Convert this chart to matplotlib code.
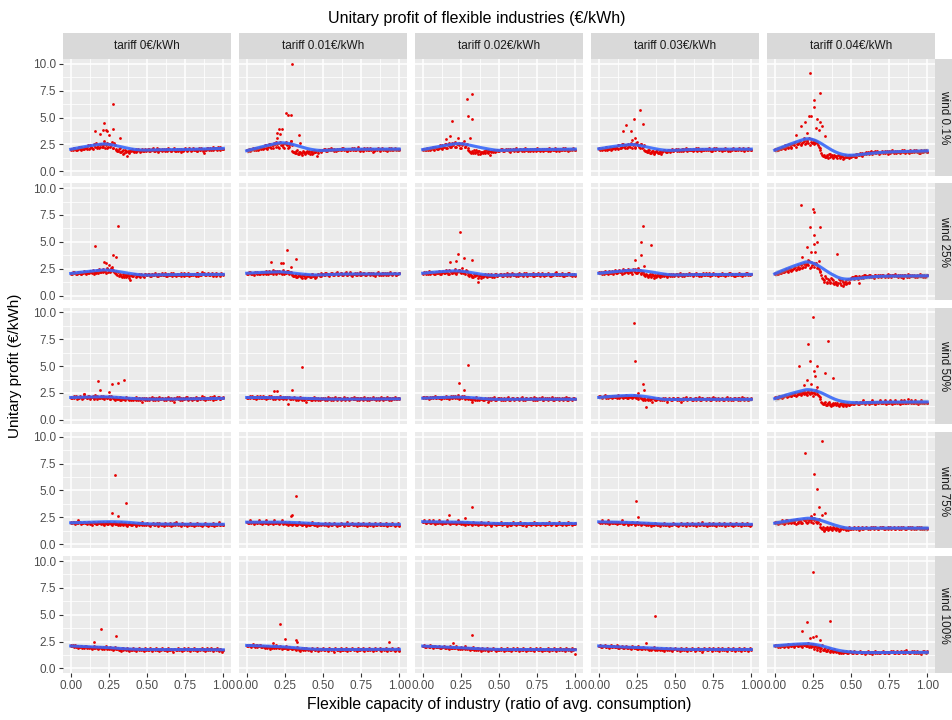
import numpy as np
import matplotlib
matplotlib.use("Agg")
import matplotlib.pyplot as plt

plt.rcParams['font.family'] = ['Liberation Sans', 'DejaVu Sans']

tariffs = ["tariff 0€/kWh", "tariff 0.01€/kWh", "tariff 0.02€/kWh",
           "tariff 0.03€/kWh", "tariff 0.04€/kWh"]
winds = ["wind 0.1%", "wind 25%", "wind 50%", "wind 75%", "wind 100%"]

# profit at capacity 0.00, 0.01, ..., 1.00 for every wind / tariff pair
w01_t0 = [2.0,2.1,2.2,2.1,2.0,2.2,2.1,2.3,2.1,2.2, 2.2,2.3,2.1,2.4,2.2,2.5,2.3,2.2,2.4,2.3,
          2.5,2.3,2.6,2.4,2.2,2.5,2.3,2.7,2.2,2.4, 2.0,1.9,2.2,1.8,2.0,1.7,1.9,1.4,1.8,2.0,
          2.1,1.9,2.0,1.8,2.1,2.0,1.9,2.1,1.9,2.0, 2.0,2.1,1.9,2.0,2.2,1.9,2.0,1.8,2.1,2.0,
          1.9,2.1,2.0,1.9,2.2,2.0,1.9,2.1,2.0,1.9, 2.0,2.1,1.8,2.0,2.1,2.2,1.9,2.0,2.1,2.0,
          2.2,2.0,2.1,1.9,2.2,2.0,2.1,1.7,2.0,2.1, 2.2,2.1,2.0,2.3,2.1,2.2,2.0,2.1,2.3,2.1, 2.1]
w01_t1 = [2.0,1.9,2.1,2.0,2.2,2.1,2.0,2.2,2.1,2.3, 2.2,2.1,2.4,2.2,2.3,2.5,2.2,2.4,2.6,2.3,
          2.5,2.2,2.7,2.4,2.3,2.6,2.5,2.2,2.4,2.8, 1.9,1.8,1.7,2.0,1.6,1.8,1.7,1.9,1.6,1.8,
          1.7,1.9,1.8,1.6,2.0,1.8,1.4,1.9,2.0,1.8, 2.0,2.1,1.9,2.0,2.1,2.0,2.1,1.9,2.0,2.1,
          2.0,2.1,2.0,2.2,2.1,2.0,1.9,2.1,2.0,2.2, 2.1,2.0,2.1,2.3,2.0,2.1,1.9,2.2,2.0,2.1,
          2.0,2.2,2.1,1.8,2.0,2.1,2.2,1.9,2.1,2.0, 2.1,2.0,1.9,2.2,2.0,2.1,2.0,2.2,2.1,2.0, 2.1]
w01_t2 = [2.0,2.1,2.0,2.2,2.1,2.0,2.2,2.1,2.3,2.2, 2.1,2.3,2.2,2.4,2.3,2.5,2.2,2.4,2.3,2.6,
          2.4,2.7,2.3,2.5,2.6,2.2,2.4,2.8,2.3,2.5, 2.0,1.8,1.9,1.7,1.8,2.0,1.6,1.9,1.7,1.8,
          1.9,1.7,1.8,2.0,1.5,1.9,1.8,2.0,1.9,2.0, 1.9,2.0,2.1,1.9,2.0,2.0,2.1,1.8,2.0,2.1,
          2.0,2.2,1.9,2.0,2.1,1.9,2.0,2.2,2.0,1.9, 2.1,2.0,1.9,2.1,2.0,2.2,2.0,1.9,2.1,2.0,
          2.0,2.1,1.9,2.2,2.0,2.1,2.0,1.9,2.1,2.0, 2.1,2.0,2.2,2.0,2.1,1.9,2.0,2.1,2.0,2.1, 2.0]
w01_t3 = [2.1,2.0,2.2,2.1,2.0,2.3,2.1,2.2,2.0,2.2, 2.3,2.1,2.2,2.4,2.2,2.3,2.5,2.2,2.4,2.3,
          2.4,2.6,2.2,2.5,2.3,2.7,2.4,2.2,2.5,2.3, 2.0,1.9,1.8,2.0,1.7,1.9,1.6,1.8,2.0,1.7,
          1.8,1.6,1.9,2.0,1.8,1.9,2.0,1.8,2.1,1.9, 2.0,1.9,2.1,2.0,1.9,2.1,2.0,2.2,1.9,2.0,
          2.1,2.0,1.9,2.1,2.0,2.2,2.0,1.9,2.1,2.0, 2.0,2.1,2.2,2.0,1.9,2.1,2.0,2.2,2.1,2.0,
          2.1,1.9,2.0,2.2,2.1,2.0,1.9,2.1,2.2,2.0, 2.0,2.1,2.2,2.0,2.1,1.9,2.1,2.0,2.2,2.1, 2.0]
w01_t4 = [2.0,2.1,2.0,2.2,2.1,2.3,2.2,2.1,2.4,2.3, 2.4,2.2,2.5,2.6,2.3,2.5,2.7,2.4,2.6,2.8,
          2.5,2.9,2.6,2.4,3.0,2.7,2.5,2.8,2.6,2.3, 2.0,1.5,1.4,1.3,1.5,1.2,1.6,1.4,1.3,1.5,
          1.4,1.2,1.5,1.3,1.4,1.1,1.5,1.3,1.4,1.2, 1.3,1.4,1.5,1.3,1.6,1.5,1.7,1.4,1.6,1.7,
          1.6,1.8,1.7,1.9,1.6,1.8,1.7,1.9,1.8,1.7, 1.8,1.7,1.9,1.8,1.6,1.9,1.8,2.0,1.7,1.8,
          1.9,1.8,1.7,1.9,1.8,2.0,1.8,1.9,1.7,1.9, 1.8,2.0,1.9,1.8,1.9,1.7,2.0,1.8,1.9,2.0, 1.8]

w25_t0 = [2.1,2.0,2.2,2.1,2.0,2.1,2.2,2.0,2.1,2.2, 2.0,2.2,2.1,2.3,2.1,2.0,2.2,2.4,2.1,2.3,
          2.2,2.5,2.3,2.1,2.6,2.4,2.2,2.5,2.3,2.1, 2.0,2.2,1.9,1.8,2.0,1.7,1.9,1.8,1.6,1.4,
          1.9,1.8,2.0,1.7,1.9,1.8,2.0,1.9,1.7,2.0, 1.9,2.0,1.8,2.0,1.9,2.1,1.9,1.8,2.0,1.9,
          2.0,1.9,2.1,1.8,2.0,1.9,2.0,2.1,1.9,1.8, 2.0,1.9,2.1,2.0,1.8,2.0,1.9,2.1,2.0,1.9,
          1.9,2.0,1.8,2.1,2.0,1.9,2.2,2.0,1.9,2.0, 2.1,1.9,2.0,1.8,2.0,2.1,1.9,2.0,1.8,2.0, 1.9]
w25_t1 = [2.1,2.0,2.2,2.0,2.1,1.9,2.1,2.2,2.0,2.1, 2.2,2.0,2.1,2.3,2.0,2.2,2.1,2.4,2.2,2.0,
          2.3,2.1,2.2,2.0,2.4,2.2,2.1,2.3,2.0,2.2, 1.9,1.8,2.0,1.7,1.9,1.8,1.6,1.9,2.0,1.7,
          1.8,1.9,1.7,2.0,1.8,1.6,1.9,2.0,1.8,2.1, 2.0,1.9,2.1,2.0,1.8,2.0,2.1,1.9,2.0,2.2,
          1.9,2.0,2.1,1.9,2.0,2.2,1.9,2.0,2.1,1.8, 2.0,2.1,1.9,2.0,2.2,1.9,2.0,2.1,1.9,2.0,
          2.1,1.9,2.0,2.1,1.8,2.0,2.2,2.0,1.9,2.1, 2.0,1.9,2.1,2.0,2.2,1.9,2.0,2.1,1.9,2.0, 2.1]
w25_t2 = [2.1,2.2,2.0,2.1,2.3,2.0,2.2,2.1,2.0,2.2, 2.1,2.3,2.0,2.2,2.1,2.4,2.2,2.0,2.3,2.1,
          2.2,2.5,2.0,2.3,2.4,2.1,2.6,2.2,2.0,2.3, 1.9,2.0,1.8,1.7,1.9,2.0,1.25,1.8,1.6,1.9,
          1.8,2.0,1.7,1.9,1.8,2.0,1.9,1.7,2.0,1.8, 1.9,2.0,1.8,2.0,1.9,2.1,1.9,1.8,2.0,1.9,
          2.0,1.8,1.9,2.1,2.0,1.9,1.8,2.0,2.1,1.9, 1.9,2.0,2.1,1.8,2.0,1.9,2.0,1.8,2.1,1.9,
          2.0,1.9,2.1,2.0,1.8,1.9,2.0,2.2,1.9,2.0, 1.9,2.1,1.8,2.0,1.9,2.0,2.1,1.9,1.8,2.0, 1.9]
w25_t3 = [2.2,2.1,2.0,2.2,2.3,2.1,2.0,2.2,2.1,2.3, 2.2,2.4,2.1,2.3,2.2,2.0,2.5,2.2,2.3,2.1,
          2.4,2.2,2.0,2.3,2.5,2.1,2.2,2.4,2.0,2.2, 1.9,2.0,1.7,1.9,1.8,2.0,1.6,1.9,1.8,2.0,
          1.7,1.9,2.0,1.8,1.9,1.7,2.0,1.9,1.8,2.0, 1.9,2.0,1.8,2.1,1.9,2.0,1.8,2.0,1.9,2.1,
          1.9,2.0,1.8,2.0,2.1,1.9,2.0,1.8,2.0,1.9, 2.1,1.9,2.0,1.8,2.0,2.1,1.9,2.0,1.8,2.0,
          1.9,2.1,2.0,1.8,2.0,1.9,2.1,2.0,1.9,1.8, 2.0,1.9,2.1,2.0,1.8,2.0,1.9,2.1,2.0,1.9, 2.0]
w25_t4 = [2.0,2.1,2.0,2.2,2.1,2.3,2.2,2.4,2.3,2.2, 2.4,2.3,2.5,2.6,2.4,2.7,2.5,2.8,2.6,2.9,
          2.7,3.0,2.8,2.6,3.1,2.9,2.7,3.0,2.8,2.5, 2.2,1.6,1.4,1.8,1.3,1.5,1.2,1.6,1.4,1.1,
          1.3,1.0,1.5,1.2,1.4,0.9,1.3,1.1,1.5,1.2, 1.6,1.7,1.5,1.8,1.6,1.2,1.7,1.8,1.6,1.9,
          1.7,1.8,1.9,1.7,1.8,1.6,1.9,1.8,1.7,1.9, 1.8,1.9,1.7,1.8,2.0,1.8,1.7,1.9,1.8,1.9,
          1.8,1.7,1.9,1.8,1.6,1.9,1.8,2.0,1.7,1.8, 1.9,1.8,1.7,1.9,1.8,2.0,1.8,1.7,1.9,1.8, 1.9]

w50_t0 = [2.1,2.0,2.2,2.1,1.9,2.0,2.2,2.1,2.0,2.4, 2.1,2.0,2.2,1.9,2.1,2.0,2.3,1.9,2.1,2.0,
          2.2,2.0,1.9,2.1,2.0,2.2,1.9,2.1,2.0,1.8, 2.0,1.9,2.1,1.8,2.0,1.9,2.1,2.0,1.8,1.9,
          2.0,1.8,1.9,2.1,1.8,2.0,1.9,1.7,2.0,1.9, 1.8,2.0,1.9,2.1,1.8,1.9,2.0,1.8,2.1,1.9,
          2.0,1.8,1.9,2.0,2.1,1.8,2.0,1.9,1.7,2.0, 1.9,2.1,2.0,1.8,1.9,2.0,2.1,1.8,2.0,1.9,
          2.0,1.9,2.1,1.8,2.0,1.9,2.2,2.0,1.8,2.0, 1.9,2.1,2.0,1.8,2.2,1.9,2.0,2.1,1.9,2.0, 2.1]
w50_t1 = [2.1,2.0,2.2,2.1,2.0,2.1,1.9,2.2,2.0,2.1, 2.0,2.2,2.1,1.9,2.0,2.1,2.2,1.9,2.1,2.0,
          2.1,1.9,2.2,2.0,1.9,2.1,2.0,1.45,2.1,1.9, 2.0,2.1,1.8,2.0,1.9,2.1,1.8,2.0,1.9,1.7,
          2.0,1.9,1.8,2.0,2.1,1.8,1.9,2.0,1.8,1.9, 2.0,1.8,1.9,2.1,1.9,1.8,2.0,1.9,2.1,1.8,
          1.9,2.0,1.8,1.9,2.1,1.9,2.0,1.8,1.9,2.0, 2.1,1.9,1.8,2.0,1.9,2.0,1.8,2.1,1.9,2.0,
          1.8,2.0,1.9,2.1,1.9,1.8,2.0,1.9,2.1,1.8, 2.0,1.9,2.1,1.8,2.0,1.9,2.0,2.1,1.9,2.0, 1.9]
w50_t2 = [2.0,2.1,2.0,2.1,1.9,2.0,2.1,2.0,2.2,2.0, 2.1,2.0,1.9,2.1,2.0,2.2,2.0,1.9,2.1,2.0,
          2.2,2.0,2.1,2.3,1.9,2.1,2.0,2.2,1.9,2.0, 2.1,1.9,1.7,2.0,1.8,2.1,1.9,1.8,2.0,1.9,
          1.8,2.0,1.9,1.7,2.0,1.8,1.9,2.1,1.8,1.9, 2.0,1.8,1.9,2.0,1.8,1.9,2.1,1.8,1.9,2.0,
          1.8,1.9,2.0,1.8,1.9,2.1,1.9,1.8,2.0,1.9, 1.9,2.0,1.8,2.1,1.9,1.8,2.0,1.9,2.1,1.8,
          2.0,1.9,1.8,2.0,1.9,2.1,1.8,1.9,2.0,1.8, 1.9,2.0,1.8,1.9,2.1,1.8,2.0,1.9,1.8,2.0, 1.9]
w50_t3 = [2.1,2.2,2.0,2.1,2.3,2.1,2.0,2.2,2.1,2.0, 2.2,2.1,2.0,2.3,2.1,2.2,2.0,2.1,2.3,2.0,
          2.2,2.1,2.0,2.3,2.1,2.2,1.9,2.1,2.0,1.8, 1.9,1.2,1.8,2.0,1.9,1.7,2.0,1.8,1.9,2.0,
          1.8,1.9,2.0,1.8,1.9,1.7,2.0,1.9,1.8,2.0, 1.9,1.8,2.0,1.9,1.7,2.0,1.9,2.1,1.8,1.9,
          2.0,1.8,1.9,2.0,1.8,1.9,2.1,1.8,2.0,1.9, 1.8,2.0,1.9,1.8,2.0,2.1,1.9,1.8,2.0,1.9,
          1.9,2.0,1.8,1.9,2.1,1.8,2.0,1.9,1.8,2.0, 1.9,1.8,2.0,1.9,2.1,1.8,1.9,2.0,1.8,1.9, 2.0]
w50_t4 = [2.0,2.1,2.0,2.2,2.1,2.0,2.2,2.3,2.1,2.2, 2.3,2.2,2.4,2.3,2.2,2.5,2.4,2.3,2.6,2.4,
          2.5,2.3,2.7,2.4,2.6,2.2,2.5,2.8,2.4,2.2, 1.9,1.6,1.5,1.7,1.4,1.6,1.5,1.3,1.6,1.5,
          1.4,1.6,1.3,1.5,1.4,1.6,1.5,1.3,1.5,1.4, 1.5,1.6,1.5,1.7,1.6,1.5,1.7,1.6,1.8,1.5,
          1.6,1.7,1.5,1.6,1.8,1.6,1.5,1.7,1.6,1.8, 1.7,1.6,1.8,1.5,1.7,1.6,1.7,1.5,1.6,1.8,
          1.6,1.7,1.5,1.8,1.6,1.7,1.6,1.9,1.7,1.6, 1.7,1.6,1.8,1.7,1.5,1.6,1.8,1.7,1.6,1.7, 1.6]

w75_t0 = [2.1,2.0,2.1,1.9,2.0,2.2,2.1,1.9,2.0,2.1, 2.0,1.9,2.1,2.0,1.8,2.1,2.0,1.9,2.1,2.0,
          1.9,2.1,1.8,2.0,1.9,2.1,2.0,1.8,2.0,1.9, 2.0,1.8,1.9,2.1,1.8,2.0,1.9,1.7,2.0,1.9,
          1.8,2.0,1.9,1.7,2.0,1.8,1.9,2.1,1.8,1.9, 2.0,1.8,1.7,1.9,2.0,1.8,1.9,1.7,2.0,1.8,
          1.9,1.7,2.0,1.8,1.9,2.0,1.7,1.8,1.9,2.1, 1.8,1.9,1.7,2.0,1.8,1.9,1.7,1.9,2.0,1.8,
          1.9,1.7,1.8,2.0,1.9,1.8,1.7,1.9,2.0,1.8, 1.7,1.9,1.8,2.0,1.7,1.9,1.8,2.1,1.8,1.9, 1.8]
w75_t1 = [2.1,2.0,2.2,2.0,2.1,1.9,2.1,2.0,2.2,2.0, 1.9,2.1,2.0,2.2,1.9,2.0,2.1,1.9,2.2,2.0,
          2.1,1.9,2.0,2.2,1.9,2.1,2.0,1.8,2.1,1.9, 1.8,2.0,1.9,1.8,2.1,1.9,1.8,2.0,1.9,1.7,
          2.0,1.8,1.9,2.1,1.8,1.9,1.7,2.0,1.9,1.8, 1.9,2.0,1.8,1.7,2.0,1.9,1.8,2.0,1.9,1.7,
          1.9,1.8,2.0,1.9,1.7,1.9,2.1,1.8,1.9,2.0, 1.8,1.9,1.7,2.0,1.8,1.9,2.0,1.8,1.9,1.7,
          2.0,1.8,1.9,1.7,2.0,1.8,1.9,2.0,1.8,1.9, 1.8,2.0,1.7,1.9,1.8,2.0,1.9,1.7,1.8,2.0, 1.7]
w75_t2 = [2.1,2.2,2.0,2.1,2.2,2.0,2.1,2.2,1.9,2.1, 2.0,2.2,2.1,1.9,2.0,2.1,2.2,2.0,1.9,2.1,
          2.0,2.1,1.9,2.2,2.0,1.9,2.1,2.0,1.8,2.1, 1.9,2.0,1.8,2.1,1.9,2.0,1.8,1.9,2.1,1.9,
          2.0,1.8,1.9,2.1,1.9,1.7,2.0,1.9,1.8,2.0, 1.9,2.1,1.8,1.9,2.0,1.7,1.9,2.0,1.8,2.1,
          1.9,1.8,2.0,1.9,2.1,1.8,1.9,2.0,1.7,1.9, 2.0,1.8,1.9,2.1,1.8,2.0,1.9,1.8,2.0,1.9,
          1.8,2.0,1.9,2.1,1.8,1.9,2.0,1.8,1.9,2.1, 1.9,1.8,2.0,1.9,1.8,2.1,1.9,2.0,1.8,1.9, 2.0]
w75_t3 = [2.1,2.0,2.2,2.1,2.0,2.1,2.2,1.9,2.1,2.0, 2.1,2.0,1.9,2.1,2.0,2.2,1.9,2.0,2.1,1.8,
          2.0,1.9,2.1,2.0,1.8,2.1,1.9,2.0,1.8,2.0, 1.9,1.8,2.0,1.9,1.7,1.9,1.8,2.0,1.9,1.8,
          1.7,1.9,1.8,2.0,1.8,1.9,1.7,1.9,1.8,2.0, 1.9,1.8,1.7,1.9,2.0,1.8,1.9,1.7,2.0,1.8,
          1.9,2.0,1.8,1.9,1.7,2.0,1.8,1.9,2.1,1.8, 1.9,1.7,2.0,1.8,1.9,2.0,1.8,1.7,1.9,2.0,
          1.8,1.9,2.0,1.7,1.9,1.8,2.0,1.9,1.7,1.9, 2.0,1.8,1.9,1.7,2.0,1.8,1.9,2.0,1.8,1.7, 1.9]
w75_t4 = [2.0,2.1,1.9,2.0,2.1,2.0,1.9,2.1,2.2,2.0, 2.1,2.0,2.2,2.1,1.9,2.0,2.2,2.1,2.0,2.3,
          2.2,2.0,2.1,2.3,2.2,2.0,2.4,2.1,2.2,2.3, 1.6,1.4,1.2,1.5,1.6,1.3,1.5,1.4,1.6,1.5,
          1.3,1.5,1.2,1.4,1.5,1.6,1.4,1.5,1.3,1.5, 1.4,1.5,1.6,1.4,1.5,1.3,1.5,1.6,1.4,1.5,
          1.6,1.4,1.5,1.6,1.5,1.4,1.6,1.5,1.4,1.6, 1.5,1.6,1.4,1.5,1.6,1.5,1.4,1.5,1.6,1.4,
          1.5,1.6,1.5,1.4,1.6,1.5,1.4,1.6,1.5,1.5, 1.6,1.4,1.5,1.6,1.5,1.4,1.6,1.5,1.4,1.5, 1.4]

w100_t0 = [2.2,2.1,2.0,2.2,2.1,1.9,2.0,2.1,2.0,1.9, 2.1,2.0,1.9,2.0,1.8,2.1,1.9,2.0,1.8,2.0,
           1.9,2.0,1.8,2.1,1.9,1.8,2.0,1.9,1.7,2.0, 1.8,1.9,1.7,1.6,1.9,1.8,1.7,1.9,1.6,1.8,
           1.7,1.9,1.8,1.6,1.8,1.9,1.7,1.8,1.6,1.9, 1.8,1.7,1.9,1.6,1.8,1.7,1.9,1.8,1.6,1.7,
           1.9,1.7,1.8,1.6,1.9,1.7,1.8,1.5,1.8,1.7, 1.9,1.7,1.8,1.6,1.9,1.8,1.7,1.9,1.6,1.8,
           1.7,1.9,1.8,1.6,1.8,1.7,1.9,1.8,1.6,1.9, 1.7,1.8,1.9,1.6,1.8,1.7,1.9,1.6,1.8,1.5, 1.7]
w100_t1 = [2.2,2.1,2.2,2.0,2.3,2.1,2.2,2.0,2.1,2.2, 2.0,2.1,1.9,2.0,2.1,1.8,2.0,2.1,1.9,2.2,
           2.0,1.9,2.1,1.8,2.0,1.9,2.1,1.8,2.0,1.9, 1.8,1.9,1.7,2.0,1.8,1.6,1.9,1.7,1.8,1.9,
           1.7,1.8,1.6,1.9,1.8,1.7,1.9,1.6,1.8,1.7, 1.9,1.7,1.8,1.6,1.9,1.7,1.8,1.5,1.9,1.7,
           1.8,1.6,1.9,1.7,1.8,1.9,1.6,1.8,1.7,1.9, 1.7,1.8,1.6,1.9,1.7,1.8,1.9,1.6,1.8,1.7,
           1.9,1.7,1.8,1.6,1.9,1.7,1.8,1.9,1.6,1.8, 1.7,1.9,1.6,1.8,1.7,1.9,1.8,1.6,1.7,1.9, 1.6]
w100_t2 = [2.1,2.2,2.0,2.1,2.0,2.2,2.1,1.9,2.1,2.0, 2.0,2.1,1.9,2.0,2.1,1.9,2.0,1.8,2.1,1.9,
           2.0,1.9,2.1,1.8,1.9,2.0,1.8,1.9,2.1,1.8, 1.9,1.7,1.8,2.0,1.8,1.7,1.9,1.8,1.6,1.9,
           1.8,1.7,1.9,1.6,1.8,1.7,1.9,1.8,1.6,1.8, 1.7,1.9,1.8,1.6,1.8,1.9,1.7,1.8,1.6,1.9,
           1.8,1.7,1.9,1.6,1.8,1.7,1.9,1.8,1.6,1.7, 1.9,1.7,1.8,1.6,1.9,1.8,1.7,1.9,1.6,1.8,
           1.7,1.8,1.9,1.6,1.8,1.7,1.9,1.6,1.8,1.7, 1.9,1.7,1.8,1.6,1.9,1.7,1.8,1.6,1.9,1.8, 1.3]
w100_t3 = [2.1,2.2,2.0,2.1,2.2,2.0,2.1,1.9,2.2,2.0, 2.1,2.0,2.2,1.9,2.0,2.1,1.9,2.0,2.1,1.9,
           2.0,1.8,2.1,1.9,2.0,1.8,2.1,1.9,1.8,2.0, 1.9,2.4,1.8,1.7,1.9,1.8,2.0,1.7,1.9,1.8,
           1.7,1.9,1.8,1.6,1.9,1.8,1.7,1.9,1.6,1.8, 1.9,1.7,1.8,1.6,1.9,1.8,1.7,1.9,1.6,1.8,
           1.7,1.9,1.8,1.6,1.8,1.9,1.7,1.8,1.5,1.9, 1.8,1.7,1.9,1.8,1.6,1.9,1.7,1.8,1.9,1.6,
           1.8,1.9,1.7,1.8,1.6,1.9,1.8,1.7,1.9,1.6, 1.8,1.7,1.9,1.6,1.8,1.9,1.7,1.8,1.6,1.9, 1.7]
w100_t4 = [2.1,2.2,2.0,2.1,2.2,2.1,2.0,2.2,2.1,2.3, 2.2,2.1,2.3,2.0,2.2,2.1,2.3,2.2,2.0,2.2,
           2.3,2.1,2.4,2.2,2.0,2.3,1.8,2.1,1.7,2.0, 1.6,2.2,1.7,1.9,1.6,1.8,1.5,1.7,1.6,1.8,
           1.5,1.6,1.4,1.5,1.6,1.4,1.5,1.6,1.4,1.5, 1.5,1.4,1.6,1.5,1.4,1.5,1.6,1.4,1.5,1.3,
           1.5,1.6,1.4,1.5,1.3,1.5,1.6,1.4,1.5,1.4, 1.5,1.6,1.4,1.5,1.5,1.4,1.6,1.5,1.4,1.5,
           1.6,1.4,1.5,1.6,1.4,1.5,1.7,1.5,1.4,1.5, 1.6,1.4,1.5,1.6,1.4,1.5,1.3,1.6,1.5,1.4, 1.6]

# second run, at capacity 0.005, 0.015, ..., 0.995
w01_t0b = [2.1,2.0,2.2,2.0,2.1,2.3,2.0,2.2,2.1,2.3, 2.1,2.4,2.2,2.3,2.1,2.4,2.6,2.3,2.2,2.5,
           2.3,2.4,2.2,2.6,2.3,2.5,2.4,2.2,2.6,2.1, 1.9,2.1,1.8,1.9,1.6,2.0,1.8,1.9,1.7,1.9,
           2.0,1.8,2.1,1.9,2.0,1.8,2.0,1.9,2.1,1.9, 2.1,1.9,2.0,2.1,1.9,2.0,2.2,1.9,2.0,2.1,
           2.0,1.9,2.1,2.0,2.1,1.9,2.0,2.2,1.9,2.1, 1.9,2.0,2.1,1.9,2.0,2.1,2.0,2.2,1.9,2.0,
           2.1,2.0,1.9,2.1,2.0,2.2,1.9,2.1,2.0,2.2, 2.0,2.2,2.1,2.0,2.2,2.1,2.3,2.0,2.2,2.1]
w01_t1b = [2.0,2.1,1.9,2.1,2.0,2.2,2.1,2.0,2.2,2.1, 2.3,2.2,2.4,2.1,2.5,2.3,2.4,2.2,2.5,2.7,
           2.3,2.6,2.4,2.5,2.2,2.7,2.4,2.3,2.6,2.4, 1.8,1.7,1.9,1.6,1.8,1.7,1.5,1.8,1.7,1.9,
           1.8,1.6,1.9,1.7,1.8,1.9,1.7,2.0,1.9,2.0, 2.1,2.0,1.9,2.1,2.0,2.2,2.0,2.1,1.9,2.0,
           2.1,2.0,2.2,2.0,2.1,1.9,2.1,2.0,2.1,2.0, 2.2,2.0,2.1,2.0,1.9,2.1,2.0,2.1,2.2,2.0,
           2.1,2.0,2.1,1.9,2.1,2.0,2.1,2.0,2.2,2.1, 2.0,2.1,2.0,2.1,2.2,2.0,2.1,2.0,2.1,2.0]
w01_t2b = [2.1,2.0,2.1,2.0,2.2,2.1,2.3,2.0,2.2,2.1, 2.2,2.4,2.1,2.3,2.5,2.2,2.4,2.6,2.3,2.4,
           2.6,2.3,2.5,2.4,2.2,2.6,2.5,2.3,2.4,2.2, 1.9,1.7,1.8,2.0,1.7,1.8,1.9,1.6,1.8,1.7,
           1.8,2.0,1.7,1.9,1.8,1.9,2.0,1.8,2.0,1.9, 2.0,2.1,1.9,2.0,2.1,2.0,1.9,2.1,2.0,1.9,
           2.1,2.0,1.9,2.1,2.0,2.1,1.9,2.0,2.1,2.0, 1.9,2.1,2.0,2.1,1.9,2.0,2.1,2.0,1.9,2.1,
           2.0,2.1,2.0,1.9,2.1,2.0,2.2,2.0,2.1,1.9, 2.0,2.1,2.0,2.2,2.0,2.1,2.0,2.1,2.2,2.0]
w01_t3b = [2.2,2.1,2.0,2.1,2.2,2.0,2.1,2.3,2.1,2.2, 2.2,2.3,2.1,2.4,2.2,2.5,2.3,2.4,2.2,2.5,
           2.3,2.5,2.4,2.2,2.6,2.4,2.3,2.5,2.2,2.4, 1.9,1.8,2.0,1.7,1.8,1.9,1.7,1.9,1.8,1.7,
           1.9,1.8,2.0,1.9,1.8,2.0,1.9,2.0,1.9,2.0, 2.1,2.0,1.9,2.0,2.1,1.9,2.1,2.0,2.1,2.0,
           2.0,2.1,2.0,2.2,1.9,2.1,2.0,2.1,2.0,2.1, 2.1,2.0,2.1,1.9,2.0,2.2,2.0,2.1,2.0,2.1,
           2.0,2.1,2.0,2.1,1.9,2.0,2.1,2.0,2.1,2.0, 2.1,2.0,2.1,2.0,2.2,2.0,2.1,2.0,2.1,2.0]
w01_t4b = [2.1,2.0,2.2,2.1,2.3,2.2,2.4,2.3,2.2,2.5, 2.3,2.5,2.4,2.7,2.5,2.6,2.8,2.5,2.7,2.9,
           2.6,2.8,3.1,2.7,2.6,2.9,2.6,2.7,2.4,2.2, 1.7,1.4,1.5,1.3,1.4,1.6,1.3,1.5,1.2,1.4,
           1.3,1.5,1.2,1.4,1.3,1.2,1.4,1.3,1.5,1.4, 1.4,1.5,1.3,1.6,1.5,1.6,1.5,1.7,1.6,1.8,
           1.7,1.6,1.8,1.7,1.8,1.9,1.7,1.8,1.6,1.8, 1.9,1.8,1.7,1.9,1.8,1.7,1.9,1.8,1.9,1.7,
           1.8,1.9,1.8,2.0,1.9,1.7,1.9,1.8,2.0,1.8, 1.9,1.8,2.0,1.9,1.7,1.9,1.8,2.0,1.9,1.8]

w25_t0b = [2.0,2.2,2.1,2.0,2.2,2.1,2.0,2.1,2.3,2.1, 2.2,2.1,2.3,2.2,2.4,2.2,2.1,2.3,2.5,2.2,
           2.4,2.2,2.3,2.5,2.2,2.3,2.6,2.4,2.2,2.3, 1.9,1.8,2.0,1.7,1.8,1.9,1.7,2.0,1.8,1.9,
           1.8,2.0,1.9,1.8,2.0,1.7,1.9,1.8,2.0,1.9, 2.0,1.9,1.8,2.0,1.9,2.0,1.8,2.0,1.9,2.1,
           1.9,2.0,1.8,2.0,1.9,2.1,1.8,2.0,1.9,2.0, 1.9,2.0,1.8,1.9,2.1,1.9,2.0,1.8,1.9,2.0,
           2.0,1.9,2.1,1.8,2.0,1.9,2.0,2.1,1.9,2.0, 1.9,2.0,2.1,1.9,2.0,1.8,2.0,1.9,2.1,2.0]
w25_t1b = [2.0,2.2,2.1,2.0,2.1,2.2,2.0,2.1,2.0,2.2, 2.1,2.2,2.0,2.1,2.3,2.1,2.2,2.0,2.3,2.1,
           2.2,2.3,2.1,2.2,2.0,2.1,2.3,2.1,2.2,2.0, 1.8,1.9,1.7,1.8,2.0,1.7,1.9,1.8,1.6,1.9,
           1.9,1.7,2.0,1.8,1.9,1.7,2.0,1.9,1.8,2.0, 1.9,2.1,2.0,1.9,2.0,2.1,1.9,2.0,2.1,1.9,
           2.0,2.1,1.9,2.0,2.1,1.9,2.0,2.2,1.9,2.0, 2.0,1.9,2.1,2.0,1.9,2.0,2.1,1.9,2.0,2.1,
           2.0,2.1,1.9,2.0,2.0,2.1,1.9,2.0,2.1,1.9, 2.1,2.0,1.9,2.1,2.0,2.0,2.1,1.9,2.0,2.1]
w25_t2b = [2.0,2.1,2.2,2.0,2.1,2.2,2.1,2.0,2.2,2.1, 2.2,2.0,2.2,2.3,2.1,2.2,2.0,2.4,2.2,2.1,
           2.3,2.1,2.2,2.4,2.2,2.3,2.1,2.2,2.4,2.1, 1.8,1.9,1.7,2.0,1.8,1.9,1.6,1.9,1.8,1.7,
           1.9,1.8,2.0,1.8,1.9,1.7,1.9,2.0,1.8,1.9, 2.0,1.9,1.8,2.0,1.9,1.8,2.0,1.9,2.1,1.9,
           1.9,2.0,1.8,1.9,2.0,1.9,2.1,1.9,1.8,2.0, 2.0,1.9,1.8,2.0,1.9,2.1,1.9,2.0,1.9,1.8,
           1.9,2.0,1.9,1.8,2.0,1.9,2.1,1.9,2.0,1.9, 2.0,1.9,1.8,2.0,1.9,2.1,1.9,2.0,1.9,1.8]
w25_t3b = [2.1,2.2,2.1,2.0,2.2,2.1,2.3,2.1,2.2,2.0, 2.3,2.1,2.2,2.4,2.2,2.3,2.1,2.4,2.2,2.5,
           2.2,2.3,2.5,2.2,2.1,2.4,2.3,2.1,2.3,2.0, 1.8,1.9,1.8,2.0,1.7,1.9,1.8,1.7,1.9,1.8,
           1.9,1.8,1.9,2.0,1.8,1.9,1.8,2.0,1.9,1.8, 2.0,1.9,2.0,1.9,1.8,2.0,1.9,2.0,1.9,2.0,
           2.0,1.9,2.0,1.9,2.0,1.8,2.0,1.9,2.1,1.9, 2.0,1.9,2.1,1.9,1.9,2.0,2.0,1.9,2.0,1.9,
           2.0,1.9,2.0,1.9,2.0,2.1,1.9,2.0,1.8,2.0, 1.9,2.0,1.9,2.0,1.9,2.0,2.1,1.9,2.0,2.0]
w25_t4b = [2.1,2.0,2.2,2.1,2.3,2.2,2.3,2.5,2.4,2.6, 2.5,2.4,2.6,2.7,2.5,2.8,2.6,2.9,2.7,3.0,
           2.8,2.9,3.2,2.7,2.8,3.0,2.9,2.6,2.7,2.3, 1.9,1.5,1.3,1.6,1.2,1.4,1.3,1.5,1.2,1.3,
           1.1,1.2,1.4,1.0,1.3,1.1,1.4,1.2,1.3,1.5, 1.7,1.6,1.8,1.7,1.5,1.8,1.6,1.7,1.9,1.8,
           1.8,1.7,1.9,1.8,1.7,1.9,1.8,1.9,1.8,1.7, 1.9,1.8,1.8,1.9,1.7,1.9,1.8,1.9,2.0,1.8,
           1.9,1.8,1.7,1.9,1.8,1.9,1.7,1.8,1.9,1.8, 1.8,1.9,1.8,1.7,1.9,1.8,1.9,1.8,1.7,1.9]

w50_t0b = [2.0,2.1,2.0,2.2,2.1,2.0,2.1,1.9,2.2,2.1, 2.0,2.2,2.0,2.1,2.2,1.9,2.1,2.2,2.0,2.1,
           2.0,2.2,2.1,2.0,2.1,1.9,2.2,2.0,1.9,2.1, 1.9,2.0,1.8,2.0,1.9,1.8,2.0,1.9,2.0,1.8,
           1.9,2.0,1.8,1.9,2.0,1.8,2.0,1.9,1.8,2.0, 1.9,1.8,2.0,1.9,2.0,1.8,1.9,2.0,1.9,2.0,
           1.9,2.0,1.8,1.9,2.0,1.9,1.8,2.0,1.9,2.1, 2.0,1.8,1.9,2.0,1.9,2.1,1.9,1.9,2.0,1.8,
           1.9,2.0,1.8,2.0,1.9,2.0,1.9,2.1,1.9,2.0, 2.0,1.9,2.1,2.0,1.9,2.0,2.1,1.9,2.0,2.0]
w50_t1b = [2.0,2.1,2.0,2.2,2.0,2.1,2.0,2.1,2.2,2.0, 2.1,2.0,2.1,2.0,2.2,2.0,2.1,2.0,1.9,2.1,
           2.0,2.1,2.0,2.1,2.0,1.9,2.1,2.0,1.9,2.0, 1.9,2.0,1.9,1.8,2.0,1.9,2.0,1.8,2.0,1.9,
           1.9,2.0,1.8,1.9,1.9,2.0,1.8,1.9,2.0,1.9, 1.9,2.0,1.8,1.9,2.0,1.9,1.8,2.0,1.9,2.0,
           2.0,1.9,1.9,2.0,1.8,2.0,1.9,1.9,2.0,1.9, 1.9,2.0,2.0,1.8,2.0,1.9,2.0,1.9,1.8,2.0,
           1.9,1.9,2.0,1.9,2.0,1.9,1.8,2.0,1.9,2.0, 1.9,2.0,1.9,2.0,1.8,2.0,1.9,2.0,1.9,2.0]
w50_t2b = [2.1,2.0,2.1,2.0,2.1,2.0,2.1,2.1,2.0,2.1, 2.0,2.1,2.0,2.1,2.1,2.0,2.1,2.0,2.2,2.0,
           2.1,2.2,2.0,2.1,2.0,2.2,2.1,2.0,2.1,1.9, 2.0,1.9,1.8,1.9,2.0,1.8,1.9,2.0,1.9,1.8,
           1.9,1.9,2.0,1.8,1.9,2.0,1.9,1.8,1.9,2.0, 1.9,2.0,1.8,1.9,1.9,2.0,1.8,1.9,2.0,1.9,
           1.9,2.0,1.9,1.9,2.0,1.8,1.9,2.0,1.9,1.9, 2.0,1.9,1.9,1.8,2.0,1.9,1.9,2.0,1.8,1.9,
           1.9,2.0,1.9,1.9,2.0,1.8,2.0,1.9,1.9,2.0, 1.9,1.9,2.0,1.9,1.8,2.0,1.9,1.9,2.0,1.9]
w50_t3b = [2.2,2.1,2.1,2.2,2.0,2.2,2.1,2.1,2.2,2.1, 2.1,2.2,2.1,2.0,2.2,2.1,2.2,2.1,2.0,2.2,
           2.1,2.2,2.1,2.2,2.0,2.1,2.2,2.0,1.9,2.0, 1.8,1.9,2.0,1.8,1.9,2.0,1.9,1.8,1.9,1.9,
           1.9,1.8,1.9,2.0,1.8,1.9,1.9,1.8,2.0,1.9, 1.9,2.0,1.8,1.9,1.9,1.8,2.0,1.9,1.9,2.0,
           1.9,1.8,1.9,2.0,1.9,1.9,1.8,2.0,1.9,1.9, 1.9,1.9,2.0,1.8,1.9,1.9,2.0,1.9,1.8,1.9,
           1.9,1.8,1.9,2.0,1.9,1.9,1.8,1.9,2.0,1.9, 1.9,2.0,1.8,1.9,1.9,2.0,1.9,1.8,1.9,1.9]
w50_t4b = [2.1,2.0,2.1,2.1,2.2,2.1,2.3,2.2,2.2,2.3, 2.2,2.4,2.3,2.5,2.3,2.4,2.6,2.4,2.5,2.7,
           2.4,2.6,2.5,2.8,2.5,2.6,2.4,2.6,2.3,2.1, 1.7,1.5,1.6,1.4,1.5,1.7,1.4,1.5,1.4,1.6,
           1.5,1.4,1.5,1.6,1.3,1.5,1.4,1.6,1.4,1.5, 1.6,1.5,1.6,1.7,1.5,1.6,1.6,1.7,1.6,1.7,
           1.7,1.6,1.7,1.6,1.7,1.5,1.7,1.6,1.7,1.6, 1.6,1.7,1.6,1.7,1.6,1.8,1.6,1.7,1.6,1.7,
           1.7,1.6,1.7,1.6,1.8,1.6,1.7,1.6,1.7,1.8, 1.6,1.7,1.6,1.6,1.7,1.7,1.6,1.6,1.7,1.6]

w75_t0b = [2.0,2.1,2.0,2.1,2.0,2.1,2.0,2.0,2.1,2.0, 2.0,2.1,1.9,2.0,2.1,2.0,1.9,2.0,2.0,2.1,
           2.0,1.9,2.0,2.1,1.9,2.0,1.9,2.0,2.1,1.9, 1.9,2.0,1.8,1.9,1.9,2.0,1.8,1.9,1.9,1.8,
           1.9,1.9,1.8,1.9,1.9,2.0,1.8,1.9,1.9,1.8, 1.9,1.8,1.9,1.9,1.8,1.9,2.0,1.8,1.9,1.8,
           1.9,1.8,1.9,1.9,1.8,1.9,1.8,2.0,1.8,1.9, 1.9,1.8,1.8,1.9,1.9,1.8,1.9,1.8,1.9,1.8,
           1.8,1.9,1.9,1.8,1.9,1.8,1.8,1.9,1.8,1.9, 1.8,1.9,1.8,1.8,1.9,1.8,1.9,1.8,1.9,1.8]
w75_t1b = [2.1,2.0,2.1,2.1,2.0,2.1,2.0,2.1,2.0,2.1, 2.0,2.1,2.0,2.0,2.1,2.0,2.0,2.1,2.0,2.0,
           2.0,2.0,2.1,2.0,2.0,1.9,2.0,2.0,1.9,2.0, 1.9,1.9,1.8,1.9,2.0,1.9,1.8,1.9,1.9,1.8,
           1.9,1.8,1.9,1.9,1.8,1.9,1.9,1.8,1.9,1.9, 1.8,1.9,1.9,1.8,1.9,1.8,1.9,1.9,1.8,1.9,
           1.8,1.9,1.9,1.8,1.9,1.8,1.8,1.9,1.9,1.8, 1.9,1.8,1.9,1.8,1.9,1.8,1.9,1.8,1.8,1.9,
           1.8,1.9,1.8,1.9,1.8,1.8,1.9,1.8,1.9,1.8, 1.9,1.8,1.8,1.9,1.8,1.9,1.8,1.8,1.9,1.8]
w75_t2b = [2.1,2.1,2.0,2.1,2.1,2.0,2.1,2.0,2.1,2.0, 2.1,2.0,2.1,2.1,2.0,2.0,2.1,2.0,2.1,2.0,
           2.0,2.1,2.0,2.0,2.1,2.0,1.9,2.0,2.0,1.9, 2.0,1.9,1.9,2.0,1.9,1.9,2.0,1.9,1.9,2.0,
           1.9,1.9,2.0,1.9,1.8,1.9,2.0,1.9,1.9,1.9, 1.9,2.0,1.9,1.9,1.9,2.0,1.9,1.8,1.9,2.0,
           1.9,1.9,2.0,1.9,1.9,1.8,2.0,1.9,1.9,1.9, 1.9,2.0,1.9,1.9,2.0,1.9,1.9,1.9,2.0,1.9,
           1.9,1.9,2.0,1.9,1.9,2.0,1.9,1.8,1.9,2.0, 1.9,1.9,2.0,1.9,1.9,1.9,2.0,1.9,1.9,1.9]
w75_t3b = [2.1,2.1,2.0,2.1,2.1,2.0,2.1,2.0,2.1,2.0, 2.0,2.1,2.0,2.0,2.1,2.0,1.9,2.0,2.0,1.9,
           2.0,1.9,2.0,1.9,2.0,1.9,2.0,1.9,1.9,2.0, 1.9,1.9,1.8,1.9,1.9,1.8,1.9,1.9,1.8,1.9,
           1.8,1.9,1.9,1.8,1.9,1.8,1.9,1.8,1.9,1.9, 1.8,1.9,1.8,1.9,1.8,1.9,1.9,1.8,1.9,1.8,
           1.9,1.8,1.9,1.8,1.9,1.9,1.8,1.9,1.8,1.9, 1.8,1.9,1.8,1.9,1.8,1.8,1.9,1.9,1.8,1.9,
           1.8,1.9,1.8,1.9,1.8,1.9,1.8,1.8,1.9,1.8, 1.9,1.8,1.9,1.8,1.9,1.8,1.8,1.9,1.8,1.8]
w75_t4b = [2.1,2.0,2.1,2.0,2.2,2.1,2.0,2.2,2.1,2.1, 2.2,2.1,2.0,2.2,2.3,2.1,2.2,2.0,2.3,2.2,
           2.1,2.3,2.2,2.1,2.4,2.2,2.3,2.0,2.1,1.9, 1.5,1.6,1.3,1.4,1.5,1.4,1.6,1.3,1.5,1.4,
           1.5,1.4,1.3,1.5,1.4,1.5,1.3,1.4,1.6,1.4, 1.5,1.4,1.5,1.5,1.6,1.4,1.5,1.4,1.5,1.5,
           1.5,1.5,1.4,1.5,1.6,1.5,1.5,1.4,1.5,1.5, 1.6,1.4,1.5,1.5,1.4,1.6,1.5,1.5,1.4,1.5,
           1.5,1.4,1.6,1.5,1.5,1.4,1.5,1.5,1.6,1.4, 1.5,1.5,1.4,1.5,1.6,1.5,1.4,1.5,1.5,1.5]

w100_t0b = [2.1,2.2,2.1,2.0,2.1,2.0,2.1,1.9,2.0,2.1, 1.9,2.0,2.0,1.9,2.0,1.9,2.0,1.9,1.9,2.0,
            1.8,1.9,2.0,1.8,1.9,1.9,1.8,1.9,1.8,1.9, 1.8,1.7,1.8,1.9,1.7,1.8,1.8,1.7,1.8,1.7,
            1.8,1.7,1.8,1.8,1.7,1.8,1.8,1.7,1.8,1.7, 1.7,1.8,1.8,1.7,1.8,1.8,1.7,1.7,1.8,1.8,
            1.8,1.7,1.8,1.8,1.7,1.8,1.7,1.8,1.8,1.7, 1.8,1.8,1.7,1.8,1.7,1.8,1.8,1.7,1.8,1.8,
            1.8,1.7,1.8,1.7,1.8,1.8,1.7,1.8,1.7,1.8, 1.8,1.7,1.8,1.7,1.8,1.8,1.7,1.8,1.7,1.7]
w100_t1b = [2.1,2.2,2.1,2.2,2.1,2.0,2.2,2.1,2.2,2.0, 2.1,2.0,2.1,1.9,2.0,2.0,1.9,2.0,2.0,1.9,
            2.0,1.9,2.0,1.9,1.9,2.0,1.8,2.0,1.9,1.8, 1.9,1.8,1.8,1.9,1.7,1.8,1.8,1.9,1.7,1.8,
            1.8,1.7,1.8,1.8,1.7,1.8,1.8,1.7,1.8,1.8, 1.7,1.8,1.8,1.7,1.8,1.8,1.7,1.8,1.8,1.7,
            1.8,1.8,1.7,1.8,1.7,1.8,1.8,1.7,1.8,1.8, 1.8,1.7,1.8,1.7,1.8,1.8,1.7,1.8,1.8,1.7,
            1.8,1.8,1.7,1.8,1.7,1.8,1.8,1.7,1.8,1.8, 1.8,1.7,1.8,1.8,1.7,1.8,1.7,1.8,1.8,1.7]
w100_t2b = [2.1,2.0,2.1,2.1,2.0,2.1,2.0,2.1,2.0,2.0, 2.0,1.9,2.0,2.0,1.9,2.0,1.9,2.0,1.9,1.9,
            1.9,2.0,1.9,1.9,1.8,1.9,1.9,1.8,1.9,1.9, 1.8,1.9,1.8,1.7,1.8,1.9,1.7,1.8,1.8,1.7,
            1.8,1.8,1.7,1.8,1.7,1.8,1.8,1.7,1.8,1.7, 1.8,1.7,1.8,1.8,1.7,1.8,1.7,1.8,1.7,1.8,
            1.7,1.8,1.8,1.7,1.8,1.7,1.8,1.7,1.8,1.8, 1.7,1.8,1.7,1.8,1.8,1.7,1.8,1.7,1.8,1.7,
            1.8,1.7,1.8,1.8,1.7,1.8,1.7,1.8,1.8,1.7, 1.8,1.7,1.8,1.7,1.8,1.8,1.7,1.8,1.7,1.8]
w100_t3b = [2.1,2.0,2.1,2.1,2.0,2.1,2.0,2.1,2.0,2.1, 2.0,2.0,2.1,1.9,2.0,2.0,1.9,2.0,1.9,2.0,
            1.9,1.9,2.0,1.9,1.9,1.8,1.9,1.9,1.8,1.9, 1.8,1.9,1.8,1.8,1.7,1.9,1.8,1.8,1.7,1.8,
            1.8,1.7,1.8,1.8,1.7,1.8,1.8,1.7,1.8,1.8, 1.8,1.7,1.8,1.8,1.7,1.8,1.8,1.7,1.8,1.8,
            1.7,1.8,1.8,1.7,1.8,1.8,1.7,1.8,1.7,1.8, 1.8,1.7,1.8,1.8,1.7,1.8,1.8,1.7,1.8,1.8,
            1.7,1.8,1.8,1.7,1.8,1.8,1.7,1.8,1.8,1.7, 1.8,1.8,1.7,1.8,1.8,1.7,1.8,1.7,1.8,1.8]
w100_t4b = [2.2,2.1,2.2,2.0,2.1,2.2,2.1,2.2,2.0,2.2, 2.1,2.2,2.1,2.2,2.3,2.1,2.2,2.1,2.3,2.2,
            2.1,2.2,2.0,2.3,2.1,2.0,2.2,1.9,2.1,1.8, 1.9,1.7,1.8,1.6,1.7,1.9,1.6,1.7,1.5,1.6,
            1.6,1.5,1.5,1.4,1.6,1.5,1.5,1.4,1.5,1.6, 1.4,1.5,1.5,1.4,1.5,1.5,1.4,1.5,1.5,1.4,
            1.5,1.5,1.4,1.5,1.5,1.4,1.5,1.5,1.4,1.5, 1.5,1.4,1.5,1.5,1.4,1.5,1.5,1.6,1.4,1.5,
            1.5,1.4,1.5,1.5,1.6,1.4,1.5,1.5,1.4,1.5, 1.5,1.6,1.4,1.5,1.5,1.4,1.5,1.6,1.5,1.5]

# extra high-profit runs (capacity, profit) around capacity 0.15 - 0.4
w01_t0_hi = [(0.16,3.7),(0.19,3.5),(0.21,3.8),(0.22,4.5),(0.23,3.8),(0.25,3.4),(0.28,6.3),
             (0.28,3.9),(0.22,2.8),(0.32,3.1),(0.24,3.7)]
w01_t1_hi = [(0.30,10.0),(0.26,5.4),(0.27,5.2),(0.29,5.2),(0.21,3.9),(0.23,3.9),(0.20,3.6),
             (0.22,3.5),(0.20,3.1),(0.34,3.4),(0.35,2.6),(0.29,2.8)]
w01_t2_hi = [(0.195,4.7),(0.29,6.7),(0.32,7.2),(0.30,5.1),(0.32,4.9),(0.15,3.0),(0.18,3.3),
             (0.23,3.1),(0.31,3.1)]
w01_t3_hi = [(0.27,5.7),(0.23,4.9),(0.29,4.4),(0.18,4.3),(0.21,3.75),(0.16,3.7),(0.24,3.1),
             (0.22,2.9)]
w01_t4_hi = [(0.23,9.1),(0.30,7.3),(0.26,6.6),(0.26,6.0),(0.225,5.1),(0.24,5.1),(0.28,4.9),
             (0.20,4.6),(0.30,4.6),(0.31,4.2),(0.17,4.2),(0.27,4.0),(0.14,3.4),(0.21,3.6),
             (0.33,3.3),(0.26,2.7),(0.19,3.1),(0.29,3.8)]
w25_t0_hi = [(0.31,6.5),(0.16,4.6),(0.28,3.8),(0.30,3.6),(0.22,3.1),(0.23,3.0),(0.25,2.8),
             (0.27,2.7)]
w25_t1_hi = [(0.265,4.25),(0.16,3.15),(0.225,3.0),(0.24,3.0),(0.32,3.4),(0.29,2.7)]
w25_t2_hi = [(0.245,5.9),(0.23,3.85),(0.27,3.5),(0.22,3.2),(0.32,3.3),(0.18,3.1)]
w25_t3_hi = [(0.29,6.5),(0.275,5.0),(0.34,4.75),(0.28,3.75),(0.24,3.3),(0.30,2.75),(0.26,2.6)]
w25_t4_hi = [(0.17,8.4),(0.25,8.1),(0.26,7.75),(0.23,6.4),(0.30,6.4),(0.26,5.65),(0.28,5.0),
             (0.26,4.8),(0.24,4.05),(0.265,4.05),(0.21,4.5),(0.41,3.85),(0.29,3.2),(0.18,3.6),
             (0.22,3.3)]
w50_t0_hi = [(0.18,3.6),(0.35,3.75),(0.31,3.4),(0.27,3.3),(0.19,2.8),(0.09,2.4),(0.25,2.6)]
w50_t1_hi = [(0.36,4.9),(0.30,2.8),(0.18,2.7),(0.20,2.7)]
w50_t2_hi = [(0.30,5.15),(0.24,3.45),(0.27,2.75)]
w50_t3_hi = [(0.23,9.05),(0.24,5.45),(0.29,3.3),(0.30,2.8),(0.26,2.5)]
w50_t4_hi = [(0.25,9.6),(0.22,7.1),(0.35,7.3),(0.23,5.45),(0.16,5.0),(0.28,5.0),(0.26,4.55),
             (0.33,4.4),(0.38,3.85),(0.21,3.75),(0.265,4.05),(0.28,3.05),(0.19,3.2),(0.24,3.3)]
w75_t0_hi = [(0.29,6.45),(0.36,3.8),(0.27,2.9),(0.31,2.65)]
w75_t1_hi = [(0.32,4.45),(0.30,2.75),(0.29,2.6)]
w75_t2_hi = [(0.32,3.45),(0.17,2.75),(0.28,2.45)]
w75_t3_hi = [(0.245,4.05),(0.26,2.55)]
w75_t4_hi = [(0.31,9.6),(0.20,8.45),(0.26,6.55),(0.28,5.1),(0.29,3.45),(0.26,2.8),(0.33,2.9),
             (0.31,2.75),(0.24,2.6)]
w100_t0_hi = [(0.20,3.65),(0.30,3.0),(0.15,2.45)]
w100_t1_hi = [(0.22,4.15),(0.25,2.75),(0.32,2.6),(0.33,2.45),(0.93,2.45),(0.17,2.4)]
w100_t2_hi = [(0.32,3.1),(0.20,2.4)]
w100_t3_hi = [(0.37,4.85)]
w100_t4_hi = [(0.25,9.0),(0.21,4.3),(0.36,4.45),(0.18,3.45),(0.27,3.0),(0.25,2.9),(0.23,2.8),
              (0.30,2.6)]

grid_base = [[w01_t0, w01_t1, w01_t2, w01_t3, w01_t4],
             [w25_t0, w25_t1, w25_t2, w25_t3, w25_t4],
             [w50_t0, w50_t1, w50_t2, w50_t3, w50_t4],
             [w75_t0, w75_t1, w75_t2, w75_t3, w75_t4],
             [w100_t0, w100_t1, w100_t2, w100_t3, w100_t4]]
grid_mid = [[w01_t0b, w01_t1b, w01_t2b, w01_t3b, w01_t4b],
            [w25_t0b, w25_t1b, w25_t2b, w25_t3b, w25_t4b],
            [w50_t0b, w50_t1b, w50_t2b, w50_t3b, w50_t4b],
            [w75_t0b, w75_t1b, w75_t2b, w75_t3b, w75_t4b],
            [w100_t0b, w100_t1b, w100_t2b, w100_t3b, w100_t4b]]
grid_hi = [[w01_t0_hi, w01_t1_hi, w01_t2_hi, w01_t3_hi, w01_t4_hi],
           [w25_t0_hi, w25_t1_hi, w25_t2_hi, w25_t3_hi, w25_t4_hi],
           [w50_t0_hi, w50_t1_hi, w50_t2_hi, w50_t3_hi, w50_t4_hi],
           [w75_t0_hi, w75_t1_hi, w75_t2_hi, w75_t3_hi, w75_t4_hi],
           [w100_t0_hi, w100_t1_hi, w100_t2_hi, w100_t3_hi, w100_t4_hi]]


def loess(x, y, xs, span=0.45, degree=1):
    # local polynomial fit with tricube weights, plus pointwise std error
    n = len(x)
    k = int(np.ceil(span * n))

    def smoother(pts):
        L = np.zeros((len(pts), n))
        for m, x0 in enumerate(pts):
            d = np.abs(x - x0)
            h = np.sort(d)[k - 1]
            w = np.clip(1 - (d / h) ** 3, 0, None) ** 3
            X = np.column_stack([(x - x0) ** p for p in range(degree + 1)])
            XtW = X.T * w
            L[m] = np.linalg.solve(XtW @ X, XtW)[0]
        return L

    Ld = smoother(x)
    resid = y - Ld @ y
    sigma = np.sqrt(np.sum(resid ** 2) / (n - np.trace(Ld)))
    Ls = smoother(xs)
    return Ls @ y, sigma * np.sqrt(np.sum(Ls ** 2, axis=1))


W, H = 953, 720
fig = plt.figure(figsize=(W / 100, H / 100), dpi=100)


def box(x0, y0, w, h):
    return [x0 / W, 1 - (y0 + h) / H, w / W, h / H]


px0, py0, pw, ph, dx, dy = 63, 59, 168, 116.5, 176, 124.3

for j in range(5):
    for i in range(5):
        ax = fig.add_axes(box(px0 + i * dx, py0 + j * dy, pw, ph))
        ax.set_facecolor('#EBEBEB')
        ax.set_xlim(-0.05, 1.05)
        ax.set_ylim(-0.4, 10.45)
        ax.set_xticks([0, 0.25, 0.5, 0.75, 1.0])
        ax.set_xticks([0.125, 0.375, 0.625, 0.875], minor=True)
        ax.set_yticks([0, 2.5, 5, 7.5, 10])
        ax.set_yticks([1.25, 3.75, 6.25, 8.75], minor=True)
        ax.set_xticklabels(["0.00", "0.25", "0.50", "0.75", "1.00"])
        ax.set_yticklabels(["0.0", "2.5", "5.0", "7.5", "10.0"])
        ax.grid(which='major', color='white', lw=1.1)
        ax.grid(which='minor', color='white', lw=0.55)
        ax.set_axisbelow(True)
        for s in ax.spines.values():
            s.set_visible(False)
        ax.tick_params(which='major', length=3, width=0.8, color='#333333',
                       labelsize=8.5, labelcolor='#4D4D4D', pad=2)
        ax.tick_params(which='minor', length=0)
        if i > 0:
            ax.tick_params(left=False, labelleft=False)
        if j < 4:
            ax.tick_params(bottom=False, labelbottom=False)

        base = np.array(grid_base[j][i])
        mid = np.array(grid_mid[j][i])
        hi = np.array(grid_hi[j][i])
        x = np.concatenate([np.linspace(0, 1, len(base)),
                            np.linspace(0.005, 0.995, len(mid)), hi[:, 0]])
        y = np.concatenate([base, mid, hi[:, 1]])
        order = np.argsort(x, kind='stable')
        x, y = x[order], y[order]

        xs = np.linspace(0, 1, 80)
        fit, se = loess(x, y, xs)
        ax.scatter(x, y, s=4, c='#E60000', linewidths=0, zorder=2)
        ax.fill_between(xs, fit - 1.5 * se, fit + 1.5 * se,
                        color='#999999', alpha=0.4, lw=0, zorder=3)
        ax.plot(xs, fit, color='#3366FF', lw=2.2, alpha=0.85, zorder=4)

        if j == 0:
            sax = fig.add_axes(box(px0 + i * dx, 33, pw, 26))
            sax.set_facecolor('#D9D9D9')
            sax.set_xticks([]); sax.set_yticks([])
            for s in sax.spines.values():
                s.set_visible(False)
            sax.text(0.5, 0.5, tariffs[i], ha='center', va='center',
                     fontsize=8.5, color='#1A1A1A', transform=sax.transAxes)
        if i == 4:
            sax = fig.add_axes(box(px0 + 4 * dx + pw, py0 + j * dy, 18, ph))
            sax.set_facecolor('#D9D9D9')
            sax.set_xticks([]); sax.set_yticks([])
            for s in sax.spines.values():
                s.set_visible(False)
            sax.text(0.5, 0.5, winds[j], ha='center', va='center', rotation=-90,
                     fontsize=8.5, color='#1A1A1A', transform=sax.transAxes)

fig.text(0.5, 1 - 18 / H, "Unitary profit of flexible industries (€/kWh)",
         ha='center', va='center', fontsize=11.5, color='black')
fig.text(499 / W, 1 - 705 / H, "Flexible capacity of industry (ratio of avg. consumption)",
         ha='center', va='center', fontsize=11.3, color='black')
fig.text(15 / W, 1 - 366 / H, "Unitary profit (€/kWh)", ha='center', va='center',
         rotation=90, fontsize=11, color='black')

fig.savefig("out.png", dpi=100)
